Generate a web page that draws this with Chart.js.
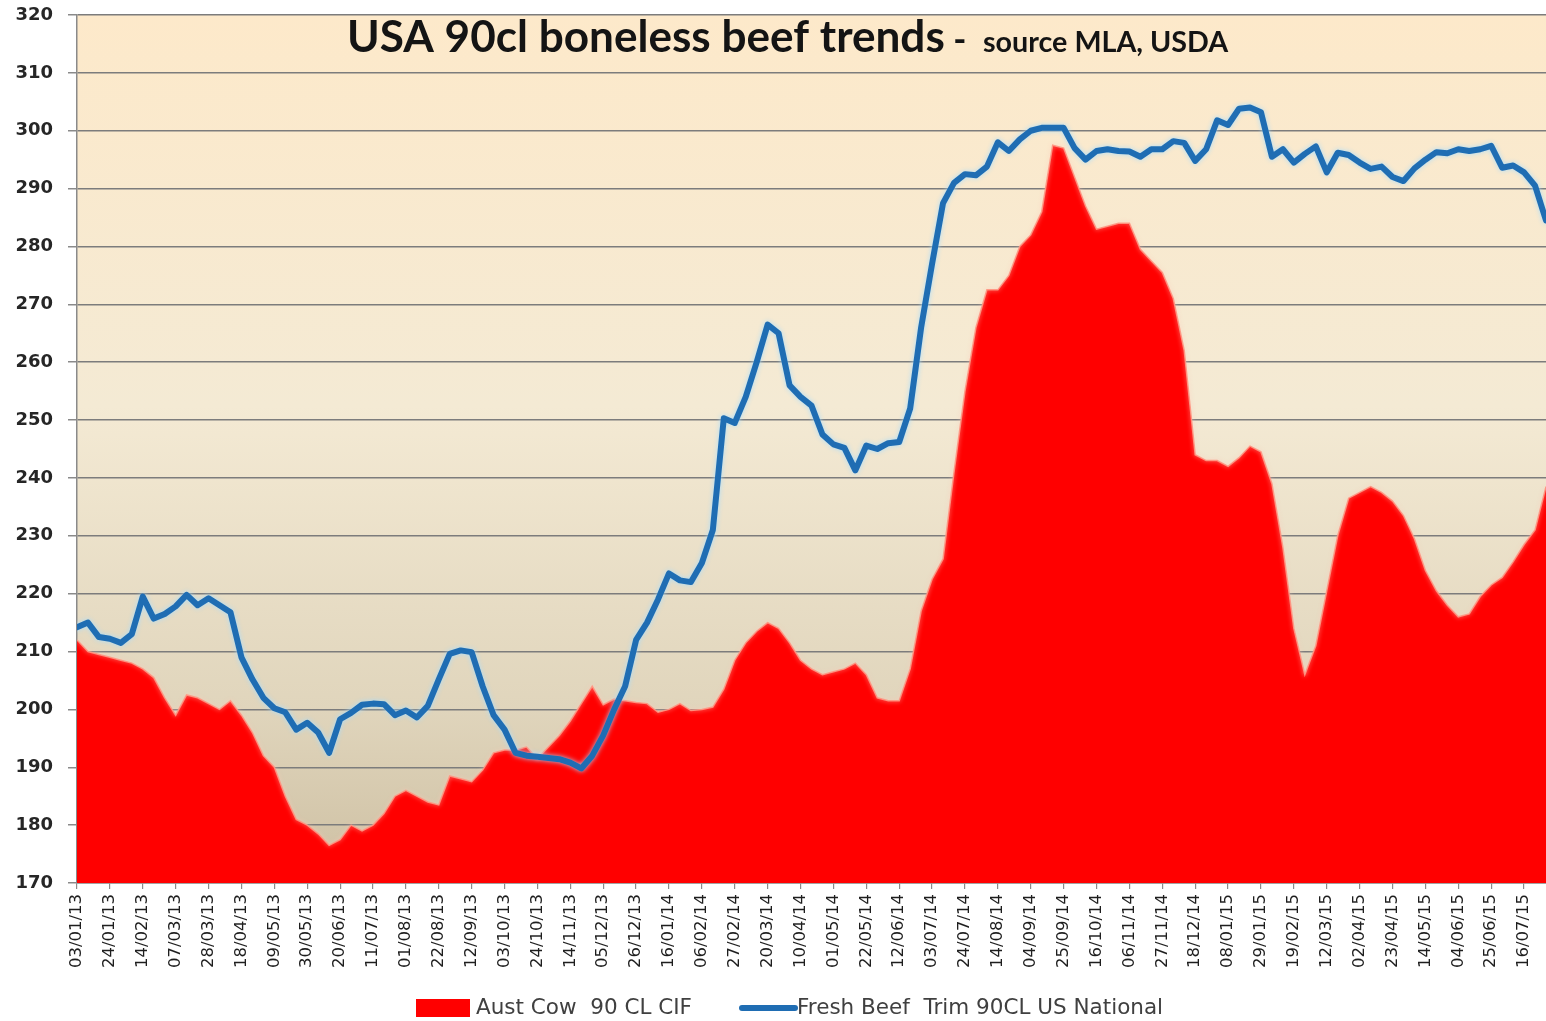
<!DOCTYPE html>
<html>
<head>
<meta charset="utf-8">
<script src="https://cdn.jsdelivr.net/npm/chart.js@4/dist/chart.umd.min.js"></script>
<style>
  html, body { margin: 0; padding: 0; background: #ffffff; }
  #wrap { position: relative; width: 1546px; height: 1021px; }
</style>
</head>
<body>
<div id="wrap"><canvas id="chart"></canvas></div>
<script>
// ---------- data ----------
const tickLabels = [
  '03/01/13','24/01/13','14/02/13','07/03/13','28/03/13','18/04/13','09/05/13','30/05/13',
  '20/06/13','11/07/13','01/08/13','22/08/13','12/09/13','03/10/13','24/10/13','14/11/13',
  '05/12/13','26/12/13','16/01/14','06/02/14','27/02/14','20/03/14','10/04/14','01/05/14',
  '22/05/14','12/06/14','03/07/14','24/07/14','14/08/14','04/09/14','25/09/14','16/10/14',
  '06/11/14','27/11/14','18/12/14','08/01/15','29/01/15','19/02/15','12/03/15','02/04/15',
  '23/04/15','14/05/15','04/06/15','25/06/15','16/07/15'
];

const seriesNames = ['Aust Cow  90 CL CIF', 'Fresh Beef  Trim 90CL US National'];

// Aust Cow 90 CL CIF (weekly, from 03/01/13)
const austCow = [
  212, 210, 209.5, 209, 208.5, 208, 207, 205.5, 202, 199,
  202.5, 202, 201, 200, 201.5, 199, 196, 192, 190, 185,
  181, 180, 178.5, 176.5, 177.5, 180, 179, 180, 182, 185,
  186, 185, 184, 183.5, 188.5, 188, 187.5, 189.5, 192.5, 193,
  193, 193.5, 191.5, 193.5, 195.5, 198, 201, 204, 200.8, 201.8,
  201.5, 201.2, 201, 199.5, 200, 201, 199.8, 200, 200.4, 203.5,
  208.5, 211.5, 213.5, 215, 214, 211.5, 208.5, 207, 206, 206.5,
  207, 208, 206, 202, 201.5, 201.5, 207, 217, 222.5, 226,
  241, 255, 266, 272.5, 272.5, 275, 280, 282, 286, 297.5,
  297, 292, 287, 283, 283.5, 284, 284, 279.5, 277.5, 275.5,
  271, 262, 244, 243, 243, 242, 243.5, 245.5, 244.5, 239,
  228, 214, 206, 211, 220.5, 230, 236.5, 237.5, 238.5, 237.5,
  236, 233.5, 229.5, 224, 220.5, 218, 216, 216.5, 219.5, 221.5,
  222.8, 225.5, 228.5, 231, 238.5
];

// Fresh Beef Trim 90CL US National (weekly, from 03/01/13)
const freshBeef = [
  214.2, 215, 212.5, 212.2, 211.5, 213, 219.5, 215.7, 216.5, 217.8,
  219.8, 218, 219.2, 218, 216.8, 209, 205.2, 202, 200.2, 199.5,
  196.5, 197.7, 196, 192.5, 198.3, 199.4, 200.8, 201, 200.9, 199,
  199.8, 198.6, 200.6, 205.2, 209.6, 210.2, 209.9, 204, 199, 196.5,
  192.5, 192, 191.8, 191.6, 191.4, 190.8, 189.8, 192, 195.5, 200,
  204, 212, 215, 219, 223.5, 222.3, 222, 225.3, 231, 250.3,
  249.5, 254, 260, 266.5, 265, 256, 254, 252.5, 247.5, 245.8,
  245.2, 241.3, 245.6, 245, 246, 246.2, 252, 266, 277, 287.5,
  291, 292.5, 292.3, 293.8, 298, 296.5, 298.5, 300, 300.5, 300.5,
  300.5, 297, 295, 296.5, 296.8, 296.5, 296.4, 295.5, 296.8, 296.8,
  298.2, 297.9, 294.8, 296.8, 301.8, 301, 303.8, 304, 303.2, 295.5,
  296.8, 294.5, 296, 297.3, 292.8, 296.2, 295.8, 294.5, 293.4, 293.8,
  292, 291.3, 293.5, 295, 296.3, 296.1, 296.8, 296.5, 296.8, 297.4,
  293.6, 294, 292.8, 290.5, 284.5
];

const yMin = 170, yMax = 320, yStep = 10;
const weekStep = 3; // one tick label every 3 weeks

// ---------- plugins ----------
const backgroundPlugin = {
  id: 'plotBackground',
  beforeDraw(chart) {
    const { ctx, chartArea: a } = chart;
    ctx.save();
    ctx.fillStyle = '#ffffff';
    ctx.fillRect(0, 0, chart.width, chart.height);
    const g = ctx.createLinearGradient(0, a.top, 0, a.bottom);
    g.addColorStop(0, '#fde9ca');
    g.addColorStop(0.45, '#f4ead4');
    g.addColorStop(0.8, '#e0d5bc');
    g.addColorStop(1, '#cdbfa2');
    ctx.fillStyle = g;
    ctx.fillRect(a.left, a.top, a.right - a.left, a.bottom - a.top);
    ctx.restore();
  }
};

const glowPlugin = {
  id: 'glow',
  beforeDatasetDraw(chart, args) {
    const ctx = chart.ctx;
    ctx.save();
    if (args.index === 1) {
      ctx.shadowColor = 'rgba(165,220,255,0.95)';
      ctx.shadowBlur = 5;
    } else {
      ctx.shadowColor = 'rgba(255,200,185,0.9)';
      ctx.shadowBlur = 4;
    }
  },
  afterDatasetDraw(chart) {
    chart.ctx.restore();
  }
};

const titlePlugin = {
  id: 'titleText',
  afterDraw(chart) {
    const ctx = chart.ctx;
    const big = 'USA 90cl boneless beef trends';
    const dash = ' - ';
    const small = 'source MLA, USDA';
    ctx.save();
    ctx.fillStyle = '#141414';
    ctx.textBaseline = 'alphabetic';
    ctx.textAlign = 'left';
    ctx.font = 'bold 40px Lato';
    const wb = ctx.measureText(big).width;
    const bigSize = 40 * 598 / wb;
    ctx.font = 'bold 24px Lato';
    const ws = ctx.measureText(small).width;
    const smallSize = 24 * 245 / ws;
    let x = 347;
    const base = 52;
    ctx.font = 'bold ' + bigSize.toFixed(1) + 'px Lato';
    ctx.fillText(big, x, base);
    x += ctx.measureText(big).width;
    ctx.font = 'bold ' + (bigSize * 0.8).toFixed(1) + 'px Lato';
    ctx.fillText(dash, x, base);
    ctx.font = 'bold ' + smallSize.toFixed(1) + 'px Lato';
    ctx.fillText(small, 983, base);
    ctx.restore();
  }
};

const legendPlugin = {
  id: 'bottomLegend',
  afterDraw(chart) {
    const ctx = chart.ctx;
    const ds = chart.data.datasets;
    const cy = 1008;
    ctx.save();
    ctx.font = '21.5px "DejaVu Sans"';
    ctx.textBaseline = 'middle';
    ctx.textAlign = 'left';
    // area item
    ctx.fillStyle = ds[0].backgroundColor;
    ctx.fillRect(416, cy - 9, 54, 18);
    ctx.fillStyle = '#404040';
    ctx.fillText(ds[0].label, 476, cy);
    // line item
    const lx = 740;
    ctx.strokeStyle = ds[1].borderColor;
    ctx.lineWidth = 6;
    ctx.lineCap = 'round';
    ctx.beginPath();
    ctx.moveTo(lx + 2, cy);
    ctx.lineTo(lx + 55, cy);
    ctx.stroke();
    ctx.fillText(ds[1].label, 797, cy);
    ctx.restore();
  }
};

// ---------- chart ----------
const toPoints = arr => arr.map((v, i) => ({ x: i, y: v }));

new Chart(document.getElementById('chart'), {
  type: 'line',
  data: {
    datasets: [
      {
        label: seriesNames[0],
        data: toPoints(austCow),
        backgroundColor: '#ff0000',
        borderColor: 'rgba(255,150,130,0.9)',
        borderWidth: 1.5,
        fill: 'origin',
        pointRadius: 0,
        tension: 0,
        order: 2
      },
      {
        label: seriesNames[1],
        data: toPoints(freshBeef),
        borderColor: '#1f6db3',
        backgroundColor: '#1f6db3',
        borderWidth: 6,
        fill: false,
        pointRadius: 0,
        tension: 0,
        borderJoinStyle: 'round',
        borderCapStyle: 'round',
        order: 1
      }
    ]
  },
  options: {
    responsive: true,
    maintainAspectRatio: false,
    animation: false,
    events: [],
    layout: { padding: { left: 0, right: 0, top: 15, bottom: 0 } },
    plugins: {
      legend: { display: false },
      title: { display: false },
      tooltip: { enabled: false }
    },
    scales: {
      x: {
        type: 'linear',
        min: 0,
        max: austCow.length - 1,
        afterFit(scale) {
          scale.height = 1021 - 883;
          scale.paddingLeft = 0;
          scale.paddingRight = 0;
        },
        border: { display: true, color: '#8a8a8a', width: 1.5 },
        grid: {
          drawOnChartArea: false,
          drawTicks: true,
          tickLength: 6,
          tickColor: '#8a8a8a',
          lineWidth: 1.2
        },
        ticks: {
          stepSize: weekStep,
          autoSkip: false,
          includeBounds: false,
          minRotation: 90,
          maxRotation: 90,
          padding: 5,
          color: '#1e1e1e',
          font: { family: '"DejaVu Sans"', size: 16.5 },
          callback: (v) => {
            const k = Math.round(v / weekStep);
            return tickLabels[k] !== undefined ? tickLabels[k] : '';
          }
        }
      },
      y: {
        min: yMin,
        max: yMax,
        afterFit(scale) {
          scale.width = 77;
          scale.paddingTop = 0;
          scale.paddingBottom = 0;
        },
        border: { display: true, color: '#8a8a8a', width: 1.5 },
        grid: {
          color: '#7c7c7c',
          lineWidth: 1.5,
          drawTicks: true,
          tickLength: 9,
          tickColor: '#8a8a8a'
        },
        ticks: {
          stepSize: yStep,
          padding: 15,
          color: '#262626',
          font: { family: '"DejaVu Sans"', size: 18, weight: 'bold' }
        }
      }
    }
  },
  plugins: [backgroundPlugin, glowPlugin, titlePlugin, legendPlugin]
});
</script>
</body>
</html>
